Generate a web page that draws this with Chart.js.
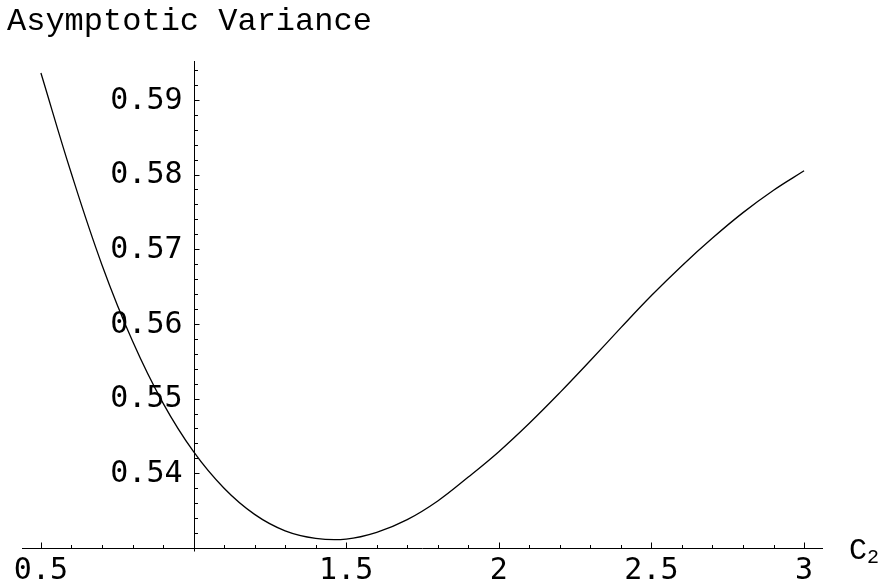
<!DOCTYPE html>
<html>
<head>
<meta charset="utf-8">
<script src="https://cdn.jsdelivr.net/npm/chart.js@4.4.0/dist/chart.umd.min.js"></script>
<style>
  html, body { margin: 0; padding: 0; background: #fff; }
  #wrap { width: 884px; height: 581px; }
</style>
</head>
<body>
<div id="wrap"><canvas id="plot" width="884" height="581"></canvas></div>
<script>
// values
var c2 = [0.5, 0.6, 0.7, 0.8, 0.9, 1.0, 1.1, 1.2, 1.3, 1.4, 1.5, 1.6, 1.7,
          1.8, 1.9, 2.0, 2.1, 2.2, 2.3, 2.4, 2.5, 2.6, 2.7, 2.8, 2.9, 3.0];
var variance = [0.5936, 0.5801, 0.5679, 0.5577, 0.5494, 0.5429, 0.5380, 0.5345,
                0.5323, 0.5313, 0.5312, 0.5321, 0.5338, 0.5363, 0.5395, 0.5429,
                0.5467, 0.5508, 0.5551, 0.5595, 0.5638, 0.5678, 0.5715, 0.5749,
                0.5779, 0.5805];

var xTicks = [0.5, 1.5, 2, 2.5, 3];
var xTickLabels = ['0.5', '1.5', '2', '2.5', '3'];
var yTicks = [0.54, 0.55, 0.56, 0.57, 0.58, 0.59];
var yTickLabels = ['0.54', '0.55', '0.56', '0.57', '0.58', '0.59'];

var title = 'Asymptotic Variance';
var xTitle = 'C';
var xTitleSub = '2';

var points = [];
for (var i in c2) {
	points.push({x: c2[i], y: variance[i]});
}

// axes drawn Mathematica style: crossing at (1, 0.53), ticks pointing inward
var axesPlugin = {
	id: 'mmaAxes',
	afterDatasetsDraw: function(chart) {
		var ctx = chart.ctx;
		var sx = chart.scales.x;
		var sy = chart.scales.y;
		var area = chart.chartArea;
		var ox = Math.round(sx.getPixelForValue(1.0)) + 0.5;
		var oy = Math.round(sy.getPixelForValue(0.53)) + 0.5;

		ctx.save();
		ctx.strokeStyle = '#000';
		ctx.lineWidth = 1;
		ctx.beginPath();
		ctx.moveTo(area.left, oy);
		ctx.lineTo(area.right, oy);
		ctx.moveTo(ox, area.top);
		ctx.lineTo(ox, oy + 3);
		ctx.stroke();

		// x ticks
		ctx.beginPath();
		for (var k = 5; k <= 30; k++) {
			var v = k / 10;
			if (k === 10) continue;
			var px = Math.round(sx.getPixelForValue(v)) + 0.5;
			var major = (k % 5 === 0);
			ctx.moveTo(px, oy);
			ctx.lineTo(px, oy - (major ? 6 : 3.5));
		}
		// y ticks
		for (var m = 266; m <= 297; m++) {
			var w = m / 500;
			var py = Math.round(sy.getPixelForValue(w)) + 0.5;
			var majorY = (m % 5 === 0);
			ctx.moveTo(ox, py);
			ctx.lineTo(ox + (majorY ? 5 : 3.5), py);
		}
		ctx.stroke();

		ctx.fillStyle = '#000';
		ctx.font = '30px "DejaVu Sans Mono"';
		ctx.textAlign = 'center';
		ctx.textBaseline = 'alphabetic';
		for (var a = 0; a < xTicks.length; a++) {
			ctx.fillText(xTickLabels[a], sx.getPixelForValue(xTicks[a]), 579);
		}
		ctx.textAlign = 'right';
		ctx.textBaseline = 'middle';
		for (var b = 0; b < yTicks.length; b++) {
			ctx.fillText(yTickLabels[b], ox - 12, sy.getPixelForValue(yTicks[b]) + 1);
		}

		ctx.textAlign = 'left';
		ctx.textBaseline = 'alphabetic';
		ctx.font = '32px "Liberation Mono"';
		ctx.fillText(title, 7, 30);
		ctx.font = '30px "Liberation Mono"';
		ctx.fillText(xTitle, 849, 559);
		ctx.font = '20px "Liberation Mono"';
		ctx.fillText(xTitleSub, 867, 563);
		ctx.restore();
	}
};

var ctx = document.getElementById('plot');

var lineChart = new Chart(ctx, {
	type: 'line',
	data: {
		datasets: [
			{
				label: title,
				data: points,
				borderColor: '#000',
				borderWidth: 1.3,
				pointRadius: 0,
				fill: false,
				tension: 0.4,
				clip: false
			}
		]
	},
	options: {
		responsive: false,
		animation: false,
		devicePixelRatio: 1,
		layout: {
			padding: {left: 22, right: 61, top: 61, bottom: 33}
		},
		plugins: {
			legend: {display: false},
			title: {display: false},
			tooltip: {enabled: false}
		},
		scales: {
			x: {type: 'linear', min: 0.438, max: 3.062, display: false},
			y: {type: 'linear', min: 0.53, max: 0.5952, display: false}
		}
	},
	plugins: [axesPlugin]
});
</script>
</body>
</html>
